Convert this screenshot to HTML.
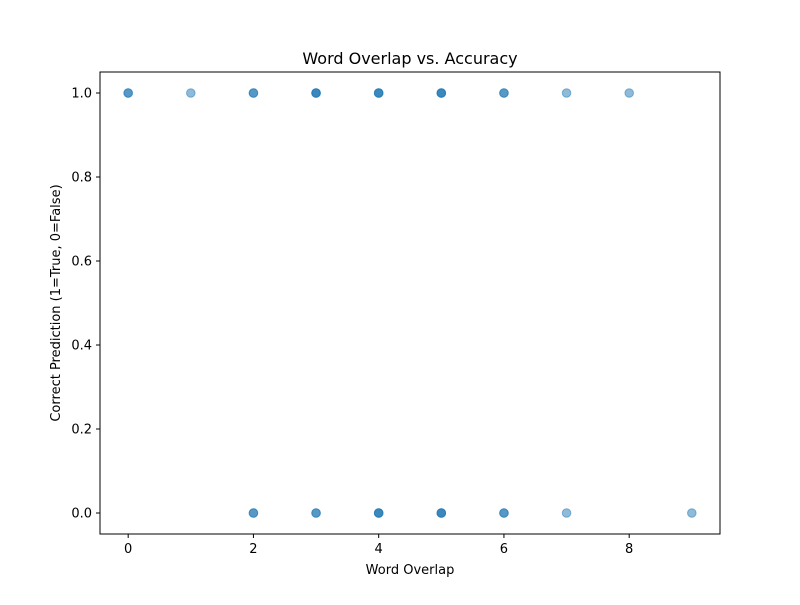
<!DOCTYPE html>
<html><head><meta charset="utf-8"><style>
body{margin:0;background:#fff;font-family:"Liberation Sans","DejaVu Sans",sans-serif}
</style></head><body>
<svg id="chart" width="800" height="600" xmlns="http://www.w3.org/2000/svg" font-family="DejaVu Sans, Liberation Sans, sans-serif">
<rect width="800" height="600" fill="#fff"/>
<text x="410" y="64" text-anchor="middle" font-size="16">Word Overlap vs. Accuracy</text>
<g id="marks"></g>
<rect x="100" y="72" width="620" height="462" fill="none" stroke="#000" stroke-width="1"/>
<g id="xt"></g>
<g id="yt"></g>
<text x="410" y="574" text-anchor="middle" font-size="13">Word Overlap</text>
<text transform="translate(60,303) rotate(-90)" text-anchor="middle" font-size="13">Correct Prediction (1=True, 0=False)</text>
</svg>
<script>
const overlapValues = [0,0,1,2,2,3,3,3,4,4,4,5,5,5,6,6,7,8, 2,2,3,3,4,4,4,5,5,5,6,6,7,9];
const correctValues = [1,1,1,1,1,1,1,1,1,1,1,1,1,1,1,1,1,1, 0,0,0,0,0,0,0,0,0,0,0,0,0,0];
const xTicks = [0,2,4,6,8];
const yTicks = [0,0.2,0.4,0.6,0.8,1.0];
const NS="http://www.w3.org/2000/svg";
const xMin=-0.45,xMax=9.45,yMin=-0.05,yMax=1.05;
const X=v=>100+(v-xMin)/(xMax-xMin)*620;
const Y=v=>534-(v-yMin)/(yMax-yMin)*462;
const marks=document.getElementById('marks');
overlapValues.forEach((v,i)=>{
  const c=document.createElementNS(NS,'circle');
  c.setAttribute('cx',X(v));c.setAttribute('cy',Y(correctValues[i]));c.setAttribute('r',4.3);
  c.setAttribute('fill','#1f77b4');c.setAttribute('fill-opacity','0.5');
  c.setAttribute('stroke','#1f77b4');c.setAttribute('stroke-opacity','0.5');c.setAttribute('stroke-width','1');
  
  
  marks.appendChild(c);
});
const xt=document.getElementById('xt');
xTicks.forEach(t=>{
  const l=document.createElementNS(NS,'line');
  l.setAttribute('x1',X(t));l.setAttribute('x2',X(t));l.setAttribute('y1',534);l.setAttribute('y2',538);l.setAttribute('stroke','#000');
  
  
  xt.appendChild(l);
  const tx=document.createElementNS(NS,'text');
  tx.setAttribute('x',X(t));tx.setAttribute('y',553);tx.setAttribute('text-anchor','middle');tx.setAttribute('font-size','13');
  tx.textContent=t;
  
  
  xt.appendChild(tx);
});
const yt=document.getElementById('yt');
yTicks.forEach(t=>{
  const l=document.createElementNS(NS,'line');
  l.setAttribute('x1',96);l.setAttribute('x2',100);l.setAttribute('y1',Y(t));l.setAttribute('y2',Y(t));l.setAttribute('stroke','#000');
  
  
  yt.appendChild(l);
  const tx=document.createElementNS(NS,'text');
  tx.setAttribute('x',92);tx.setAttribute('y',Y(t)+4.5);tx.setAttribute('text-anchor','end');tx.setAttribute('font-size','13');
  tx.textContent=t.toFixed(1);
  
  
  yt.appendChild(tx);
});
</script>
</body></html>
